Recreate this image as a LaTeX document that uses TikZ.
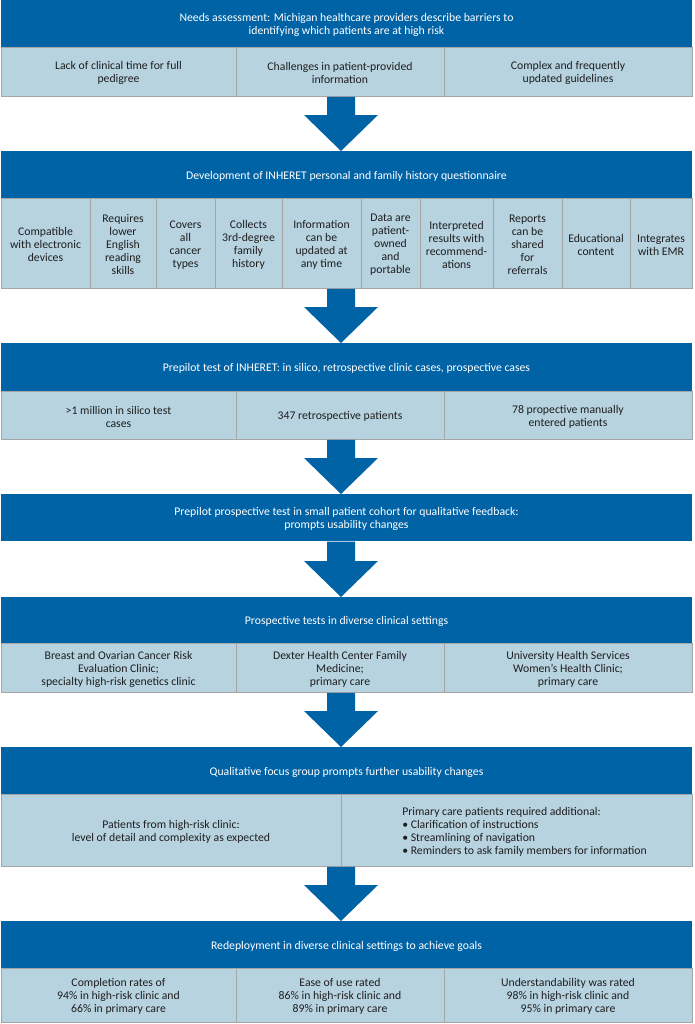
\documentclass[tikz,border=0pt]{standalone}
\usepackage{fontspec}
\setmainfont{Carlito}
\usetikzlibrary{calc}
\definecolor{hdrblue}{RGB}{0,99,166}
\definecolor{cellblue}{RGB}{183,211,224}
\definecolor{cellline}{RGB}{165,165,165}
\definecolor{celltext}{RGB}{30,30,30}
\newcommand\txtfont{\fontsize{8.8}{9.75}\selectfont}
\tikzset{
  hdr/.style={fill=hdrblue, draw=none, inner sep=0pt},
  hdrtext/.style={text=white, align=center, inner sep=0pt, font=\txtfont},
  cellbox/.style={fill=cellblue, draw=cellline, line width=0.6pt, inner sep=0pt},
  celltxt/.style={text=celltext, align=center, inner sep=0pt, font=\txtfont},
  fatarrow/.style={fill=hdrblue, draw=none}
}
% #1 name, #2-#5 corners (px), #6 box style, #7 text style, #8 text
\newcommand\cellnode[8]{%
  \pgfmathsetmacro\cx{(#2+#4)/2}\pgfmathsetmacro\cy{(#3+#5)/2+1.8}%
  \pgfmathsetmacro\cw{(#4-#2)*0.75}\pgfmathsetmacro\ch{(#5-#3)*0.75}%
  \node[#6, minimum width=\cw pt, minimum height=\ch pt, anchor=north west] (#1) at (#2,#3) {};
  \node[#7] (#1t) at (\cx,\cy) {#8};}
\newcommand\fatarr[2]{%
  \fill[fatarrow] ($(#1.south -| ax)+(-14,0)$) -- ($(#2.north -| ax)+(-14,-36)$) -- ($(#2.north -| ax)+(-37,-36)$) -- (#2.north -| ax) -- ($(#2.north -| ax)+(37,-36)$) -- ($(#2.north -| ax)+(14,-36)$) -- ($(#1.south -| ax)+(14,0)$) -- cycle;}
\begin{document}
\begin{tikzpicture}[x=0.75pt,y=-0.75pt]
\useasboundingbox (0,0) rectangle (694,1024);
\coordinate (ax) at (341,0);
% Block 1
\cellnode{h1}{1}{0}{692}{47}{hdr}{hdrtext}{Needs assessment: Michigan healthcare providers describe barriers to\\identifying which patients are at high risk}
\cellnode{r1a}{1}{47}{236}{96}{cellbox}{celltxt}{Lack of clinical time for full\\pedigree}
\cellnode{r1b}{236}{47}{444}{96}{cellbox}{celltxt}{Challenges in patient-provided\\information}
\cellnode{r1c}{444}{47}{692}{96}{cellbox}{celltxt}{Complex and frequently\\updated guidelines}
% Block 2
\cellnode{h2}{1}{151}{692}{198}{hdr}{hdrtext}{Development of INHERET personal and family history questionnaire}
\cellnode{r2a}{1}{198}{90}{288}{cellbox}{celltxt}{Compatible\\with electronic\\devices}
\cellnode{r2b}{90}{198}{156}{288}{cellbox}{celltxt}{Requires\\lower\\English\\reading\\skills}
\cellnode{r2c}{156}{198}{215}{288}{cellbox}{celltxt}{Covers\\all\\cancer\\types}
\cellnode{r2d}{215}{198}{282}{288}{cellbox}{celltxt}{Collects\\3rd-degree\\family\\history}
\cellnode{r2e}{282}{198}{361}{288}{cellbox}{celltxt}{Information\\can be\\updated at\\any time}
\cellnode{r2f}{361}{198}{420}{288}{cellbox}{celltxt}{Data are\\patient-\\owned\\and\\portable}
\cellnode{r2g}{420}{198}{493}{288}{cellbox}{celltxt}{Interpreted\\results with\\recommend-\\ations}
\cellnode{r2h}{493}{198}{562}{288}{cellbox}{celltxt}{Reports\\can be\\shared\\for\\referrals}
\cellnode{r2i}{562}{198}{630}{288}{cellbox}{celltxt}{Educational\\content}
\cellnode{r2j}{630}{198}{692}{288}{cellbox}{celltxt}{Integrates\\with EMR}
% Block 3
\cellnode{h3}{1}{343}{692}{391}{hdr}{hdrtext}{Prepilot test of INHERET: in silico, retrospective clinic cases, prospective cases}
\cellnode{r3a}{1}{391}{236}{439}{cellbox}{celltxt}{>1 million in silico test\\cases}
\cellnode{r3b}{236}{391}{444}{439}{cellbox}{celltxt}{347 retrospective patients}
\cellnode{r3c}{444}{391}{692}{439}{cellbox}{celltxt}{78 propective manually\\entered patients}
% Block 4
\cellnode{h4}{1}{494}{692}{541}{hdr}{hdrtext}{Prepilot prospective test in small patient cohort for qualitative feedback:\\prompts usability changes}
% Block 5
\cellnode{h5}{1}{597}{692}{643}{hdr}{hdrtext}{Prospective tests in diverse clinical settings}
\cellnode{r5a}{1}{643}{236}{692}{cellbox}{celltxt}{Breast and Ovarian Cancer Risk\\Evaluation Clinic;\\specialty high-risk genetics clinic}
\cellnode{r5b}{236}{643}{444}{692}{cellbox}{celltxt}{Dexter Health Center Family\\Medicine;\\primary care}
\cellnode{r5c}{444}{643}{692}{692}{cellbox}{celltxt}{University Health Services\\Women’s Health Clinic;\\primary care}
% Block 6
\cellnode{h6}{1}{747}{692}{794}{hdr}{hdrtext}{Qualitative focus group prompts further usability changes}
\cellnode{r6a}{1}{794}{341}{866}{cellbox}{celltxt}{Patients from high-risk clinic:\\level of detail and complexity as expected}
\node[cellbox, minimum width=263.25pt, minimum height=54pt, anchor=north west] (r6b) at (341,794) {};
\node[celltxt, align=left, anchor=west] (r6bt) at (402,831.8) {Primary care patients required additional:\\• Clarification of instructions\\• Streamlining of navigation\\• Reminders to ask family members for information};
% Block 7
\cellnode{h7}{1}{921}{692}{968}{hdr}{hdrtext}{Redeployment in diverse clinical settings to achieve goals}
\cellnode{r7a}{1}{968}{236}{1022}{cellbox}{celltxt}{Completion rates of\\94\% in high-risk clinic and\\66\% in primary care}
\cellnode{r7b}{236}{968}{444}{1022}{cellbox}{celltxt}{Ease of use rated\\86\% in high-risk clinic and\\89\% in primary care}
\cellnode{r7c}{444}{968}{692}{1022}{cellbox}{celltxt}{Understandability was rated\\98\% in high-risk clinic and\\95\% in primary care}
% Arrows
\fatarr{r1b}{h2}
\fatarr{r2e}{h3}
\fatarr{r3b}{h4}
\fatarr{h4}{h5}
\fatarr{r5b}{h6}
\fatarr{r6a}{h7}
\end{tikzpicture}
\end{document}
